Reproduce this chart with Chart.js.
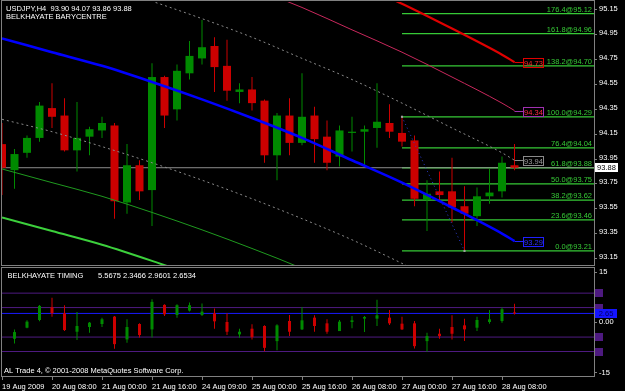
<!DOCTYPE html>
<html>
<head>
<meta charset="utf-8">
<script src="https://cdn.jsdelivr.net/npm/chart.js@4.4.1/dist/chart.umd.min.js"></script>
<style>
  html, body { margin: 0; padding: 0; background: #000; }
  #wrap { position: relative; width: 625px; height: 391px; background: #000; overflow: hidden; }
  #priceChart { position: absolute; left: 0; top: 0; }
  #timingChart { position: absolute; left: 0; top: 267px; }
</style>
</head>
<body>
<div id="wrap">
  <canvas id="priceChart" width="625" height="267"></canvas>
  <canvas id="timingChart" width="625" height="124"></canvas>
</div>
<script>
// --- data ---
const TIME_LABELS = ['19 Aug 2009', '20 Aug 08:00', '21 Aug 00:00', '21 Aug 16:00', '24 Aug 09:00',
  '25 Aug 00:00', '25 Aug 16:00', '26 Aug 08:00', '27 Aug 00:00', '27 Aug 16:00', '28 Aug 08:00'];
const TIME_BARS = [0, 4, 8, 12, 16, 20, 24, 28, 32, 36, 40];

const OPEN = [94.07, 93.86, 94.00, 94.12, 94.36, 94.30, 94.02, 94.13, 94.18, 94.22, 93.60, 93.90, 93.70, 94.61,
  94.35, 94.64, 94.76, 94.86, 94.70, 94.49, 94.51, 94.42, 93.98, 94.30, 94.08, 94.30, 94.13, 93.97,
  94.16, 94.17, 94.20, 94.24, 94.16, 94.10, 93.62, 93.69, 93.69, 93.57, 93.49, 93.65, 93.69, 93.90];
const HIGH = [94.24, 94.03, 94.14, 94.41, 94.56, 94.44, 94.41, 94.21, 94.29, 94.24, 94.07, 93.94, 94.72, 94.62,
  94.71, 94.90, 95.07, 94.93, 94.91, 94.56, 94.61, 94.43, 94.32, 94.44, 94.64, 94.37, 94.26, 94.22,
  94.29, 94.22, 94.56, 94.39, 94.29, 94.14, 93.78, 93.85, 93.96, 93.73, 93.72, 93.87, 93.97, 94.07];
const LOW = [93.66, 93.71, 93.96, 94.09, 94.20, 94.01, 93.85, 93.98, 94.12, 93.47, 93.51, 93.62, 93.41, 94.20,
  94.26, 94.59, 94.71, 94.49, 94.42, 94.40, 94.34, 93.92, 93.78, 93.98, 94.06, 93.92, 93.86, 93.89,
  94.01, 93.89, 94.04, 94.12, 94.05, 93.57, 93.37, 93.62, 93.44, 93.21, 93.41, 93.59, 93.64, 93.86];
const CLOSE = [93.88, 93.99, 94.12, 94.38, 94.29, 94.02, 94.12, 94.19, 94.24, 93.61, 93.90, 93.69, 94.61, 94.30,
  94.66, 94.78, 94.85, 94.69, 94.50, 94.51, 94.40, 93.98, 94.30, 94.08, 94.29, 94.11, 93.92, 94.18,
  94.17, 94.19, 94.25, 94.17, 94.09, 93.63, 93.67, 93.66, 93.56, 93.51, 93.65, 93.68, 93.92, 93.88];

const PRICE_TICKS = [93.15, 93.35, 93.55, 93.75, 93.95, 94.15, 94.35, 94.55, 94.75, 94.95, 95.15];
const LAST_PRICE = 93.88;

// barycentre curve and its bands, sampled every 4 bars
const CHANNEL_BARS = [0, 4, 8, 12, 16, 20, 24, 28, 32, 36, 40, 41];
const BARYCENTRE = [94.92, 94.81, 94.70, 94.57, 94.43, 94.28, 94.12, 93.94, 93.76, 93.56, 93.35, 93.29];
const UPPER_DASHED = [95.57, 95.46, 95.35, 95.22, 95.08, 94.93, 94.76, 94.59, 94.40, 94.20, 94.00, 93.94];
const LOWER_DASHED = [94.27, 94.17, 94.05, 93.92, 93.78, 93.63, 93.47, 93.30, 93.11, 92.91, 92.70, 92.65];
const UPPER_THIN = [95.97, 95.86, 95.75, 95.62, 95.48, 95.33, 95.17, 94.99, 94.81, 94.61, 94.40, 94.34];
const LOWER_THIN = [93.87, 93.76, 93.65, 93.52, 93.38, 93.23, 93.07, 92.89, 92.71, 92.51, 92.30, 92.24];
const UPPER_THICK = [96.36, 96.25, 96.14, 96.01, 95.87, 95.72, 95.56, 95.38, 95.20, 95.00, 94.79, 94.73];
const LOWER_THICK = [93.48, 93.37, 93.26, 93.13, 92.99, 92.84, 92.68, 92.50, 92.32, 92.12, 91.91, 91.85];

const FIB_RATIOS = ['0.0', '23.6', '38.2', '50.0', '61.8', '76.4', '100.0', '138.2', '161.8', '176.4'];
const FIB_PRICES = [93.21, 93.46, 93.62, 93.75, 93.88, 94.04, 94.29, 94.70, 94.96, 95.12];
const FIB_START_BAR = 32;
const FIB_TREND_BARS = [32, 37];
const FIB_TREND = [94.29, 93.21];

const TIMING_OPEN = [null, -4.9, -1.6, 0.7, 4.5, 2.7, -2.8, -1.4, -0.5, 1.7, -5.1, -0.5, -2.1, 5.2,
  2.2, 3.5, 2.2, 2.7, 0.1, -3.6, -1.9, -1.1, -5.6, 0.4, -2.1, 1.4, -0.3, -2.6,
  0.1, 1.1, 1.1, 1.4, -0.4, -0.3, -5.6, -3.4, -1.4, -0.9, -1.6, 0.1, 0.4, 2.9601];
const TIMING_HIGH = [null, -2.1, 0.6, 5.2, 7.3, 5.1, 3.1, 0.1, 1.4, 1.9, 0.9, -0.3, 6.9, 5.4,
  5.4, 5.9, 5.6, 4.1, 2.7, -1.9, -0.6, -0.9, -0.6, 2.2, 4.6, 2.1, 0.9, 0.7,
  1.9, 1.9, 6.7, 3.7, 1.7, 0.4, -3.1, -1.9, 2.1, 1.1, 1.7, 3.7, 4.4, 5.5675];
const TIMING_LOW = [null, -6.3, -1.8, 0.3, 1.7, -2.6, -5.3, -3.1, -1.4, -7.9, -6.1, -4.5, -4.5, 1.9,
  1.4, 3.2, 1.9, -1.9, -3.8, -4.6, -5.1, -8.6, -8.3, -4.1, -2.3, -2.8, -3.4, -2.6,
  -1.8, -2.9, -1.1, -0.8, -2.3, -7.8, -8.8, -4.9, -5.1, -5.6, -2.6, -0.4, -0.1, 2.3466];
const TIMING_CLOSE = [null, -2.9, 0.2, 4.9, 2.7, -2.3, -1.1, -0.1, 0.9, -6.5, -1.4, -3.8, 6.1, 2.4,
  5.1, 5.1, 3.2, 0.3, -2.8, -2.8, -4.4, -7.6, -0.9, -2.8, 0.6, -1.1, -2.8, 0.2,
  0.6, 1.6, 2.1, -0.3, -2.1, -7.1, -4.1, -4.1, -3.4, -2.1, 0.7, 0.9, 3.9, 2.6534];
const TIMING_LEVELS = [8.7, 4.4, -4.4, -8.7];
const TIMING_TICKS = [-15, 0, 15];

// --- axis ranges and styling ---
const X_MAX = 47.36;
const PRICE_MIN = 93.097, PRICE_MAX = 95.214;
const TIMING_MIN = -16.0, TIMING_MAX = 16.2;

const FONT = '"Liberation Sans", Arial, sans-serif';
const FONT_SIZE = 7.5;
const UP = '#008a00';
const DOWN = '#cc0000';
const FRAME = '#808080';
const FIB_GREEN = '#36c936';

function candleSets(open, high, low, close, bodyWidth) {
  const idx = open.map((o, i) => (o === null ? -1 : i)).filter((i) => i >= 0);
  const colors = idx.map((i) => (close[i] >= open[i] ? UP : DOWN));
  return [
    {
      type: 'bar', order: 6, grouped: false, barThickness: 1, inflateAmount: 0,
      data: idx.map((i) => ({ x: i, y: [low[i], high[i]] })),
      backgroundColor: colors, borderWidth: 0
    },
    {
      type: 'bar', order: 5, grouped: false, barThickness: bodyWidth, inflateAmount: 0, minBarLength: 1,
      data: idx.map((i) => ({ x: i, y: [open[i], close[i]] })),
      backgroundColor: colors, borderWidth: 0
    }
  ];
}

function curve(values, color, width, dash, order) {
  return {
    type: 'line', order: order, clip: 0,
    data: CHANNEL_BARS.map((b, k) => ({ x: b, y: values[k] })),
    borderColor: color, borderWidth: width, borderDash: dash || [],
    pointRadius: 0, cubicInterpolationMode: 'monotone'
  };
}

function hline(value, fromBar, color, width, order) {
  return {
    type: 'line', order: order, clip: 0,
    data: [{ x: fromBar, y: value }, { x: X_MAX, y: value }],
    borderColor: color, borderWidth: width, pointRadius: 0
  };
}

function drawBox(ctx, x, yc, w, h, fill, stroke, text, textColor) {
  const top = Math.round(yc - h / 2);
  if (fill) { ctx.fillStyle = fill; ctx.fillRect(x, top, w, h); }
  if (stroke) { ctx.strokeStyle = stroke; ctx.lineWidth = 1; ctx.strokeRect(x + 0.5, top + 0.5, w - 1, h - 1); }
  if (text) {
    ctx.fillStyle = textColor; ctx.textAlign = 'center'; ctx.textBaseline = 'middle';
    ctx.fillText(text, x + w / 2, top + h / 2 + 0.5);
  }
}

const END_LABELS = [
  { value: UPPER_THICK[11], text: '94.73', color: '#ff2a2a', border: '#e00000' },
  { value: UPPER_THIN[11], text: '94.34', color: '#ff2a40', border: '#a030b0' },
  { value: UPPER_DASHED[11], text: '93.94', color: '#9a9a9a', border: '#8a8a8a' },
  { value: BARYCENTRE[11], text: '93.29', color: '#3030ff', border: '#2020ff' }
];

const priceOverlay = {
  id: 'priceOverlay',
  afterDraw(chart) {
    const { ctx, chartArea, scales: { x, y } } = chart;
    ctx.save();
    ctx.font = `${FONT_SIZE}px ${FONT}`;

    // fibonacci labels
    ctx.fillStyle = FIB_GREEN; ctx.textAlign = 'right'; ctx.textBaseline = 'alphabetic';
    FIB_PRICES.forEach((p, k) => {
      ctx.fillText(`${FIB_RATIOS[k]}@${p.toFixed(2)}`, chartArea.right - 2, Math.round(y.getPixelForValue(p)) - 2);
    });

    // line end labels
    const xEnd = x.getPixelForValue(CHANNEL_BARS[CHANNEL_BARS.length - 1]);
    END_LABELS.forEach((l) => {
      const py = Math.round(y.getPixelForValue(l.value)) + 0.5;
      ctx.strokeStyle = l.border; ctx.lineWidth = 1;
      ctx.beginPath(); ctx.moveTo(xEnd, py); ctx.lineTo(523, py); ctx.stroke();
      drawBox(ctx, 523, py, 21, 10, null, l.border, l.text, l.color);
    });

    // last price box on the axis
    drawBox(ctx, 595, y.getPixelForValue(LAST_PRICE), 23, 9, '#ffffff', null, LAST_PRICE.toFixed(2), '#000000');

    // header
    ctx.fillStyle = '#ffffff'; ctx.textAlign = 'left'; ctx.textBaseline = 'alphabetic';
    const last = OPEN.length - 1;
    ctx.fillText(`USDJPY,H4  ${OPEN[last].toFixed(2)} ${HIGH[last].toFixed(2)} ${LOW[last].toFixed(2)} ${CLOSE[last].toFixed(2)}`, 6, 11);
    ctx.fillText('BELKHAYATE BARYCENTRE', 6, 19);

    // frame
    ctx.strokeStyle = FRAME; ctx.lineWidth = 1;
    ctx.strokeRect(1.5, 0.5, chartArea.right - 1, chartArea.bottom);
    ctx.restore();
  }
};

const timingOverlay = {
  id: 'timingOverlay',
  afterDraw(chart) {
    const { ctx, chartArea, scales: { y } } = chart;
    ctx.save();
    ctx.font = `${FONT_SIZE}px ${FONT}`;
    TIMING_LEVELS.forEach((v) => drawBox(ctx, 595, y.getPixelForValue(v), 8, 8, '#4e1a80', null));
    const last = TIMING_CLOSE.length - 1;
    drawBox(ctx, 595, y.getPixelForValue(TIMING_CLOSE[last]), 22, 9, '#1414ff', null,
      TIMING_CLOSE[last].toFixed(2), '#000060');

    ctx.fillStyle = '#ffffff'; ctx.textAlign = 'left'; ctx.textBaseline = 'alphabetic';
    ctx.fillText('BELKHAYATE TIMING', 7.5, 11);
    ctx.fillText([TIMING_HIGH[last], TIMING_LOW[last], TIMING_OPEN[last], TIMING_CLOSE[last]]
      .map((v) => v.toFixed(4)).join(' '), 98, 11);
    ctx.fillText('AL Trade 4, \u00a9 2001-2008 MetaQuotes Software Corp.', 4, 105.5);

    ctx.strokeStyle = FRAME; ctx.lineWidth = 1;
    ctx.strokeRect(1.5, 0.5, chartArea.right - 1, chartArea.bottom);
    ctx.restore();
  }
};

function rightAxis(min, max, ticks, fmt, labelOffset) {
  return {
    position: 'right', min: min, max: max,
    afterBuildTicks: (s) => { s.ticks = ticks.map((v) => ({ value: v })); },
    afterFit: (s) => { s.width = 31; s.paddingTop = 0; s.paddingBottom = 0; },
    ticks: { color: '#ffffff', font: { family: FONT, size: FONT_SIZE }, padding: 2, labelOffset: labelOffset, callback: fmt },
    grid: { drawOnChartArea: false, color: FRAME, tickLength: 3 },
    border: { display: false }
  };
}

function timeAxis(show) {
  return {
    type: 'linear', min: 0, max: X_MAX, position: 'bottom', display: show,
    offset: false,
    afterBuildTicks: (s) => { s.ticks = TIME_BARS.map((v) => ({ value: v })); },
    afterFit: (s) => {
      s.height = show ? 15 : 0;
      s.paddingLeft = 0; s.paddingRight = 0;
    },
    ticks: {
      color: '#ffffff', font: { family: FONT, size: FONT_SIZE }, align: 'start',
      maxRotation: 0, autoSkip: false, padding: 2,
      callback: (v) => TIME_LABELS[TIME_BARS.indexOf(v)]
    },
    grid: { offset: false, drawOnChartArea: false, color: FRAME, tickLength: 4 },
    border: { display: false }
  };
}

const commonOptions = {
  responsive: false,
  animation: false,
  events: [],
  plugins: { legend: { display: false }, tooltip: { enabled: false } }
};

new Chart(document.getElementById('priceChart'), {
  type: 'bar',
  data: {
    datasets: [
      ...candleSets(OPEN, HIGH, LOW, CLOSE, 8),
      hline(LAST_PRICE, 0, '#8c8c8c', 1, 7),
      ...FIB_PRICES.map((p) => hline(p, FIB_START_BAR, FIB_GREEN, 1.3, 8)),
      {
        type: 'line', order: 4, clip: 0,
        data: FIB_TREND_BARS.map((b, k) => ({ x: b, y: FIB_TREND[k] })),
        borderColor: '#2a3cd0', borderWidth: 1, borderDash: [1, 3],
        pointRadius: 1.5, pointBackgroundColor: '#a0a0a0', pointBorderWidth: 0, pointStyle: 'rect'
      },
      curve(UPPER_DASHED, '#8a8a8a', 1, [2, 3], 3),
      curve(LOWER_DASHED, '#8a8a8a', 1, [2, 3], 3),
      curve(UPPER_THIN, '#c8285c', 1, null, 3),
      curve(LOWER_THIN, '#1f9a1f', 1, null, 3),
      curve(UPPER_THICK, '#e00000', 2.2, null, 2),
      curve(LOWER_THICK, '#3cd03c', 2, null, 2),
      curve(BARYCENTRE, '#0000ff', 2.6, null, 1)
    ]
  },
  options: {
    ...commonOptions,
    layout: { autoPadding: false, padding: { left: 2, top: 2, right: 0, bottom: 2 } },
    scales: {
      x: timeAxis(false),
      y: rightAxis(PRICE_MIN, PRICE_MAX, PRICE_TICKS, (v) => v.toFixed(2), -1.5)
    }
  },
  plugins: [priceOverlay]
});

new Chart(document.getElementById('timingChart'), {
  type: 'bar',
  data: {
    datasets: [
      ...candleSets(TIMING_OPEN, TIMING_HIGH, TIMING_LOW, TIMING_CLOSE, 3),
      ...TIMING_LEVELS.map((v) => hline(v, 0, '#4e1a80', 1, 9)),
      hline(TIMING_CLOSE[TIMING_CLOSE.length - 1], 0, '#1a1aff', 1, 8)
    ]
  },
  options: {
    ...commonOptions,
    layout: { autoPadding: false, padding: { left: 2, top: 1, right: 0, bottom: 0 } },
    scales: {
      x: timeAxis(true),
      y: rightAxis(TIMING_MIN, TIMING_MAX, TIMING_TICKS, (v) => (v === 0 ? '0.00' : String(v)), 0)
    }
  },
  plugins: [timingOverlay]
});
</script>
</body>
</html>
